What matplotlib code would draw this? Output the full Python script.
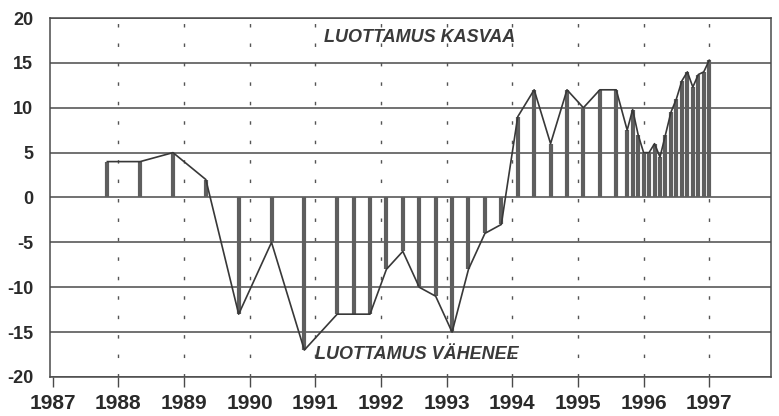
import numpy as np
import matplotlib
matplotlib.use("Agg")
import matplotlib.pyplot as plt

# kuluttajien luottamus: tutkimusvuosi, kuukausi, saldoluku
survey_year = [1987, 1988, 1988, 1989, 1989, 1990, 1990,
               1991, 1991, 1991, 1992, 1992, 1992, 1992,
               1993, 1993, 1993, 1993, 1994, 1994, 1994, 1994,
               1995, 1995, 1995, 1995, 1995, 1995,
               1996, 1996, 1996, 1996, 1996, 1996,
               1996, 1996, 1996, 1996, 1996, 1996, 1997]
survey_month = [11, 5, 11, 5, 11, 5, 11,
                5, 8, 11, 2, 5, 8, 11,
                2, 5, 8, 11, 2, 5, 8, 11,
                2, 5, 8, 10, 11, 12,
                1, 2, 3, 4, 5, 6,
                7, 8, 9, 10, 11, 12, 1]
confidence = [4, 4, 5, 2, -13, -5, -17,
              -13, -13, -13, -8, -6, -10, -11,
              -15, -8, -4, -3, 9, 12, 6, 12,
              10, 12, 12, 7.5, 9.8, 7,
              5, 5, 6, 4.5, 7, 9.5,
              11, 13, 14, 12.3, 13.7, 14, 15.3]

year_ticks = list(range(1987, 1998))
y_ticks = list(range(-20, 21, 5))

x = np.array(survey_year) + (np.array(survey_month) - 1) / 12.0
y = np.array(confidence)

plt.rcParams['font.family'] = ['Liberation Sans Narrow', 'Liberation Sans', 'DejaVu Sans']

fig = plt.figure(figsize=(7.79, 4.16), dpi=100)
ax = fig.add_axes([0.0642, 0.0938, 0.9255, 0.8629])

grid_col = '#4a4a4a'
for v in y_ticks:
    ax.axhline(v, color=grid_col, lw=1.1, zorder=1)
for yr in year_ticks[1:]:
    ax.axvline(yr, color='#555555', lw=1.0, linestyle=(0, (2.5, 11.5)), zorder=1)

ax.vlines(x, 0, y, color='#5e5e5e', lw=3.0, zorder=2)
ax.plot(x, y, color='#383838', lw=1.2, zorder=3)

ax.set_xlim(1986.96, 1997.94)
ax.set_ylim(-20, 20)
ax.set_xticks(year_ticks)
ax.set_yticks(y_ticks)
ax.set_xticklabels([str(t) for t in year_ticks], fontsize=15, fontweight='bold', color='#2a2a2a')
ax.set_yticklabels([str(t) for t in y_ticks], fontsize=13, fontweight='bold', color='#2a2a2a')
ax.tick_params(axis='y', length=0, pad=12)
ax.tick_params(axis='x', direction='out', length=7, width=1, color=grid_col, pad=5)

for s in ax.spines.values():
    s.set_color(grid_col)
    s.set_linewidth(1.1)

ax.text(1992.59, 17.8, 'LUOTTAMUS KASVAA', ha='center', va='center', fontsize=13,
        fontstyle='italic', fontweight='bold', color='#3a3a3a',
        family=['Liberation Sans', 'DejaVu Sans'], zorder=4)
ax.text(1992.55, -17.5, 'LUOTTAMUS VÄHENEE', ha='center', va='center', fontsize=13,
        fontstyle='italic', fontweight='bold', color='#3a3a3a',
        family=['Liberation Sans', 'DejaVu Sans'], zorder=4)

fig.savefig('out.png', dpi=100)
